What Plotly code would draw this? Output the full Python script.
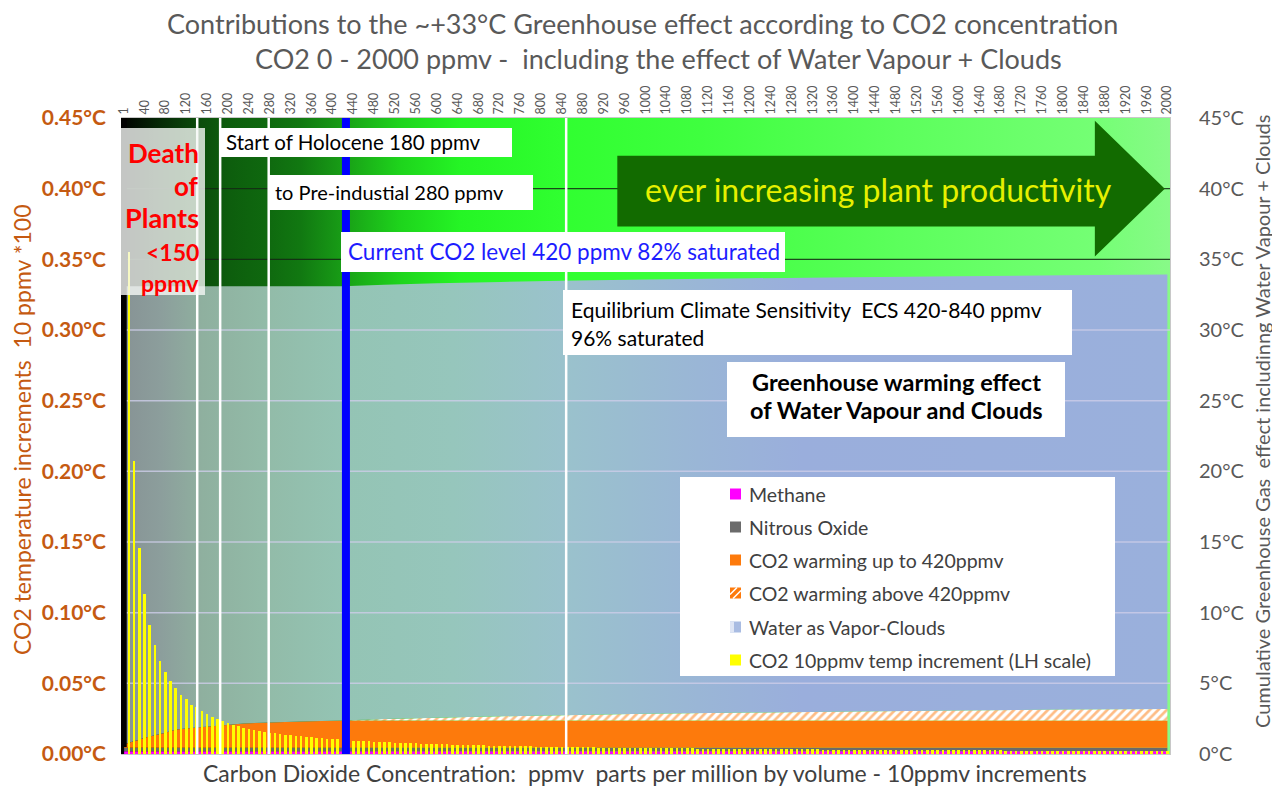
import plotly.graph_objects as go

# ---------------- data ----------------
stack_ppmv = [1, 10, 20, 30, 40, 60, 80, 100, 140, 180, 230, 280, 340, 420,
              500, 600, 723, 840, 1000, 1200, 1400, 1600, 1800, 2000]
methane = [0.2] * len(stack_ppmv)
nitrous_oxide = [0.25] * len(stack_ppmv)
co2_to_420 = [0.22, 0.35, 0.45, 0.55, 0.70, 0.88, 1.05, 1.28, 1.42, 1.55, 1.71, 1.78, 1.85, 1.92,
              1.92, 1.92, 1.92, 1.92, 1.92, 1.92, 1.92, 1.92, 1.92, 1.92]
co2_above_420 = [0, 0, 0, 0, 0, 0, 0, 0, 0, 0, 0, 0, 0, 0,
                 0.10, 0.20, 0.30, 0.38, 0.47, 0.56, 0.64, 0.71, 0.77, 0.82]
water_vapour = [32.43, 32.30, 32.20, 32.10, 31.95, 31.77, 31.60, 31.37, 31.23, 31.10, 30.94, 30.87, 30.80, 30.73,
                30.73, 30.73, 30.73, 30.73, 30.73, 30.73, 30.73, 30.73, 30.73, 30.73]

increment_ppmv = list(range(10, 2001, 10))
co2_10ppmv_increment = [
    0.355, 0.207, 0.146, 0.113, 0.091, 0.077, 0.066, 0.058, 0.052,
    0.047, 0.042, 0.0386, 0.035, 0.033, 0.0306, 0.0284, 0.0265, 0.025, 0.0235,
    0.0217, 0.0207, 0.0198, 0.0186, 0.018, 0.017, 0.016, 0.0157, 0.015, 0.0146,
    0.014, 0.0136, 0.0132, 0.0128, 0.0124, 0.012, 0.0117, 0.0114, 0.0111, 0.0108,
    0.0105, 0.0103, 0.010, 0.0098, 0.0095, 0.0093, 0.0091, 0.0089, 0.0087, 0.0085,
    0.0083, 0.0082, 0.0080, 0.0079, 0.0077, 0.0076, 0.0075, 0.0074, 0.0072, 0.0071,
    0.0070, 0.0069, 0.0068, 0.0067, 0.0066, 0.0065, 0.0064, 0.0063, 0.0062, 0.0061,
    0.0060, 0.0059, 0.0058, 0.0058, 0.0057, 0.0056, 0.0055, 0.0055, 0.0054, 0.0053,
    0.0053, 0.0052, 0.0051, 0.0051, 0.0050, 0.0049, 0.0049, 0.0048, 0.0048, 0.0047,
    0.0047, 0.0046, 0.0046, 0.0045, 0.0045, 0.0044, 0.0044, 0.0043, 0.0043, 0.0042,
    0.0042, 0.0042, 0.0041, 0.0041, 0.0040, 0.0040, 0.0040, 0.0039, 0.0039, 0.0039,
    0.0038, 0.0038, 0.0038, 0.0037, 0.0037, 0.0037, 0.0036, 0.0036, 0.0036, 0.0035,
    0.0035, 0.0035, 0.0035, 0.0034, 0.0034, 0.0034, 0.0033, 0.0033, 0.0033, 0.0033,
    0.0032, 0.0032, 0.0032, 0.0032, 0.0031, 0.0031, 0.0031, 0.0031, 0.0030, 0.0030,
    0.0030, 0.0030, 0.0029, 0.0029, 0.0029, 0.0029, 0.0029, 0.0028, 0.0028, 0.0028,
    0.0028, 0.0028, 0.0027, 0.0027, 0.0027, 0.0027, 0.0027, 0.0026, 0.0026, 0.0026,
    0.0026, 0.0026, 0.0026, 0.0025, 0.0025, 0.0025, 0.0025, 0.0025, 0.0025, 0.0024,
    0.0024, 0.0024, 0.0024, 0.0024, 0.0024, 0.0023, 0.0023, 0.0023, 0.0023, 0.0023,
    0.0023, 0.0023, 0.0022, 0.0022, 0.0022, 0.0022, 0.0022, 0.0022, 0.0022, 0.0021,
    0.0021, 0.0021, 0.0021, 0.0021, 0.0021, 0.0021, 0.0021, 0.0020, 0.0020, 0.0020, 0.0020,
]

top_tick_vals = [1] + list(range(40, 2001, 40))
top_tick_text = [str(v) for v in top_tick_vals]
left_tick_vals = [0.00, 0.05, 0.10, 0.15, 0.20, 0.25, 0.30, 0.35, 0.40, 0.45]
left_tick_text = [f"{v:.2f}°C" for v in left_tick_vals]
right_tick_vals = [0, 5, 10, 15, 20, 25, 30, 35, 40, 45]
right_tick_text = [f"{v}°C" for v in right_tick_vals]
marker_lines_ppmv = [141, 185, 278, 848]
current_ppmv = 426

legend_labels = ["Methane", "Nitrous Oxide", "CO2 warming up to 420ppmv",
                 "CO2 warming above 420ppmv", "Water as Vapor-Clouds",
                 "CO2 10ppmv temp increment (LH scale)"]

# ---------------- layout helpers (screen pixel -> paper) ----------------
OFF = 8  # page body margin
W, H = 1280 - OFF, 787 - OFF
PL, PR, PT, PB = 121, 1170, 118, 754
def px(p):
    return (p - PL) / (PR - PL)
def py(p):
    return (PB - p) / (PB - PT)

FONT = "Lato"
GREY = "#595959"
RUST = "#C55A11"
ORANGE = "#fd7a0c"

green_scale = [[0.0, "#000000"], [0.038, "#062a06"], [0.072, "#0b4a0b"], [0.104, "#0d5e0d"],
               [0.14, "#0f690f"], [0.171, "#117811"], [0.21, "#189c16"], [0.266, "#1ed41c"],
               [0.324, "#25f525"], [0.419, "#30ff30"], [0.552, "#3fff3f"], [0.743, "#5cff5c"],
               [0.933, "#75ff75"], [1.0, "#88fa88"]]
water_scale = [[0.0, "#879395"], [0.035, "#8c9e9c"], [0.075, "#8fb09f"], [0.135, "#92bba8"],
               [0.21, "#94c4b4"], [0.315, "#96c6bc"], [0.42, "#9ac2cc"], [0.55, "#9ab6d6"],
               [0.65, "#9aaedc"], [1.0, "#9ab0dc"]]

fig = go.Figure()

fig.add_trace(go.Scatter(x=[-5, 2005, 2005, -5, -5], y=[0, 0, 45, 45, 0], fill="toself",
                         fillgradient=dict(type="horizontal", colorscale=green_scale),
                         mode="lines", line=dict(width=0), hoverinfo="skip", yaxis="y"))
for g in [35, 40]:
    fig.add_trace(go.Scatter(x=[-5, 2005], y=[g, g], mode="lines",
                             line=dict(color="rgba(20,40,20,0.85)", width=1.3),
                             hoverinfo="skip", yaxis="y"))

fig.add_trace(go.Scatter(x=stack_ppmv, y=methane, stackgroup="s", mode="none",
                         fillcolor="#ff00ff", name="Methane", yaxis="y"))
fig.add_trace(go.Scatter(x=stack_ppmv, y=nitrous_oxide, stackgroup="s", mode="none",
                         fillcolor="#6b6b6b", name="Nitrous Oxide", yaxis="y"))
fig.add_trace(go.Scatter(x=stack_ppmv, y=co2_to_420, stackgroup="s", mode="none",
                         fillcolor=ORANGE, name="CO2 up to 420", yaxis="y"))
fig.add_trace(go.Scatter(x=stack_ppmv, y=co2_above_420, stackgroup="s", mode="none",
                         fillpattern=dict(shape="/", fgcolor=ORANGE, bgcolor="white",
                                          size=6, solidity=0.45),
                         name="CO2 above 420", yaxis="y"))
fig.add_trace(go.Scatter(x=stack_ppmv, y=water_vapour, stackgroup="s", mode="none",
                         fillgradient=dict(type="horizontal", colorscale=water_scale),
                         name="Water", yaxis="y"))
for g in [5, 10, 15, 20, 25, 30]:
    fig.add_trace(go.Scatter(x=[-5, 2005], y=[g, g], mode="lines",
                             line=dict(color="rgba(205,205,232,0.8)", width=1.5),
                             hoverinfo="skip", yaxis="y"))

fig.add_trace(go.Bar(x=increment_ppmv, y=co2_10ppmv_increment, width=5,
                     marker=dict(color="#ffff00", line=dict(width=0)), yaxis="y2"))

shapes = []
shapes.append(dict(type="rect", xref="x", yref="y", x0=-5, x1=6, y0=0.5, y1=45,
                   fillcolor="black", line=dict(width=0), layer="above"))
for m in marker_lines_ppmv:
    shapes.append(dict(type="line", xref="x", yref="y", x0=m, x1=m, y0=0, y1=45,
                       line=dict(color="white", width=2.5), layer="above"))
shapes.append(dict(type="line", xref="x", yref="y", x0=current_ppmv, x1=current_ppmv, y0=0, y1=45,
                   line=dict(color="#0000ff", width=8), layer="above"))
shapes.append(dict(type="rect", xref="paper", yref="paper", x0=px(121), x1=px(205), y0=py(295), y1=py(128),
                   fillcolor="rgba(245,248,245,0.8)", line=dict(width=0), layer="above"))
shapes.append(dict(type="path", xref="x", yref="y",
                   path="M 946,42.33 L 1861,42.33 L 1861,44.8 L 1995,40 L 1861,35.2 L 1861,37.33 L 946,37.33 Z",
                   fillcolor="#126b00", line=dict(width=0), layer="above"))
for (x0, x1, y0, y1) in [(219, 512, 128, 157), (268, 533, 175, 210), (341, 785, 232, 272),
                         (563, 1072, 290, 355), (727, 1065, 362, 437), (680, 1115, 477, 676)]:
    shapes.append(dict(type="rect", xref="paper", yref="paper", x0=px(x0), x1=px(x1),
                       y0=py(y1), y1=py(y0), fillcolor="white", line=dict(width=0), layer="above"))
rows = [494, 527, 560, 593, 627, 660]
sw_colors = ["#ff00ff", "#6b6b6b", ORANGE, ORANGE, "#a9bce2", "#ffff00"]
for r, c in zip(rows, sw_colors):
    shapes.append(dict(type="rect", xref="paper", yref="paper", x0=px(730), x1=px(741),
                       y0=py(r + 5.5), y1=py(r - 5.5), fillcolor=c, line=dict(width=0), layer="above"))
r = rows[3]
for (a, b, c_, d) in [(730, r + 1.5, 737, r - 5.5), (733, r + 5.5, 741, r - 2.5)]:
    shapes.append(dict(type="line", xref="paper", yref="paper", x0=px(a), y0=py(b), x1=px(c_), y1=py(d),
                       line=dict(color="white", width=1.6), layer="above"))
shapes.append(dict(type="rect", xref="paper", yref="paper", x0=px(730), x1=px(734),
                   y0=py(rows[4] + 5.5), y1=py(rows[4] - 5.5), fillcolor="#dfe6f5",
                   line=dict(width=0), layer="above"))

ann = []
def txt(x, y, text, size, color, anchor="left", bold=False, family=FONT, angle=0):
    ann.append(dict(x=px(x), y=py(y), xref="paper", yref="paper", text=text, showarrow=False,
                    xanchor=anchor, yanchor="middle", textangle=angle,
                    font=dict(family=family, size=size, color=color, weight=700 if bold else 400)))

txt(642, 24, "Contributions to the ~+33°C Greenhouse effect according to CO2 concentration", 27, GREY, "center")
txt(658, 59, "CO2 0 - 2000 ppmv -  including the effect of Water Vapour + Clouds", 27, GREY, "center")
txt(645, 773, "Carbon Dioxide Concentration:\u00a0 ppmv\u00a0 parts per million by volume - 10ppmv increments", 23, "#404040", "center")
txt(22, 430, "CO2 temperature increments\u00a0 10 ppmv *100", 23, RUST, "center", angle=-90)
txt(1262, 422, "Cumulative Greenhouse Gas\u00a0 effect includinng Water Vapour + Clouds", 20, GREY, "center", angle=-90)

for t, yy, s in [("Death", 153, 26), ("of", 186, 26), ("Plants", 218, 27), ("&lt;150", 252, 23), ("ppmv", 283, 23)]:
    txt(201, yy, t, s, "#ff0000", "right", bold=True)

txt(224, 142.5, "Start of Holocene 180 ppmv", 20.5, "#000000")
txt(273, 192.5, "to Pre-industial 280 ppmv", 20, "#000000")
txt(346, 252, "Current CO2 level 420 ppmv 82% saturated", 22.5, "#1c1cff")
txt(569, 309, "Equilibrium Climate Sensitivity\u00a0 ECS 420-840 ppmv", 21, "#000000")
txt(569, 337, "96% saturated", 21, "#000000")
txt(896, 382, "Greenhouse warming effect", 23.5, "#000000", "center", bold=True)
txt(896, 410, "of Water Vapour and Clouds", 23.5, "#000000", "center", bold=True)
txt(878, 189, "ever increasing plant productivity", 32, "#e6f000", "center")
for r, lab in zip(rows, legend_labels):
    txt(747, r, lab, 19.5, "#404040")

fig.update_layout(
    width=W, height=H, margin=dict(l=PL - OFF, r=1280 - PR, t=PT - OFF, b=787 - PB, pad=0),
    paper_bgcolor="white", plot_bgcolor="white", showlegend=False, bargap=0,
    shapes=shapes, annotations=ann,
    xaxis=dict(range=[-5, 2005], side="top", tickmode="array", tickvals=top_tick_vals,
               ticktext=top_tick_text, tickangle=-90, ticks="", showgrid=False, zeroline=False,
               tickfont=dict(family=FONT, size=12.5, color=GREY),
               showline=True, mirror=True, linecolor="#c8c8c8", linewidth=1),
    yaxis=dict(range=[0, 45], side="right", tickmode="array", tickvals=right_tick_vals,
               ticktext=right_tick_text, showgrid=False, zeroline=False, ticks="",
               tickfont=dict(family=FONT, size=20, color=GREY), ticklabelstandoff=24,
               showline=True, linecolor="#c8c8c8"),
    yaxis2=dict(range=[0, 0.45], overlaying="y", side="left", tickmode="array",
                tickvals=left_tick_vals, ticktext=left_tick_text,
                showgrid=False, zeroline=False, ticks="",
                tickfont=dict(family=FONT, size=21, color=RUST, weight=700), ticklabelstandoff=14),
)

fig.write_html("out.html")
